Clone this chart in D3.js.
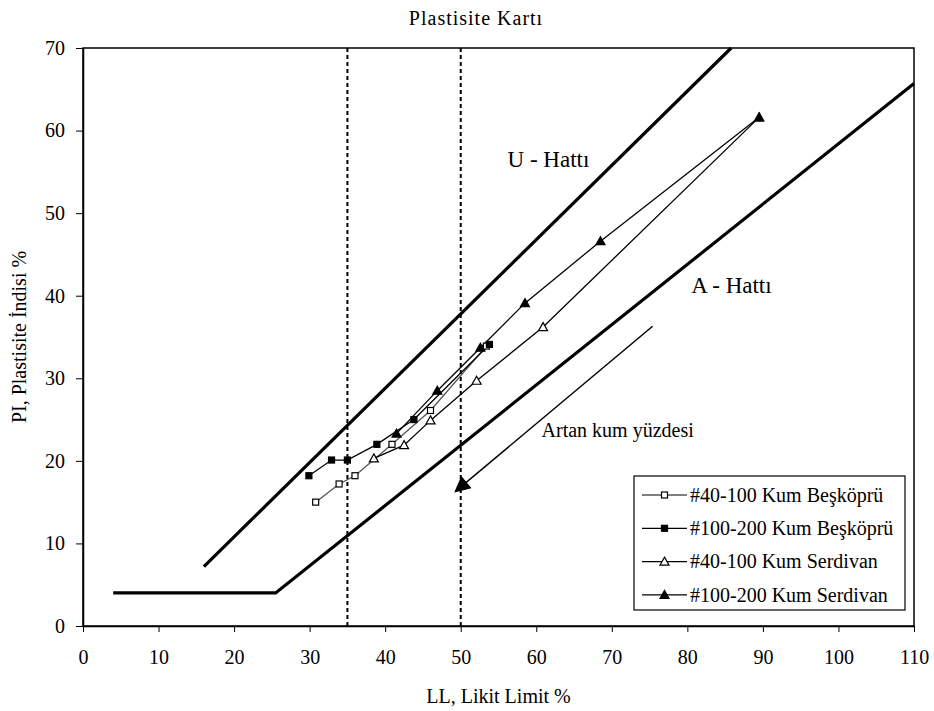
<!DOCTYPE html>
<html>
<head>
<meta charset="utf-8">
<script src="https://cdn.jsdelivr.net/npm/d3@7"></script>
<style>
  body { margin: 0; background: #fff; }
  svg text { font-family: "Liberation Serif", "Times New Roman", serif; fill: #000; }
</style>
</head>
<body>
<div id="chart"></div>
<script>
// series: [LL, PI]
var bes40 = [[30.8, 15.0], [33.9, 17.2], [36.0, 18.2], [40.9, 22.0], [46.0, 26.1], [53.4, 33.9]];
var bes100 = [[29.9, 18.2], [32.9, 20.1], [35.0, 20.1], [38.9, 22.0], [43.8, 25.0], [53.8, 34.1]];
var ser40 = [[38.5, 20.3], [42.5, 21.9], [46.0, 24.9], [52.1, 29.7], [60.9, 36.2], [89.5, 61.6]];
var ser100 = [[41.5, 23.3], [46.9, 28.5], [52.6, 33.7], [58.5, 39.1], [68.5, 46.6], [89.5, 61.6]];

var seriesNames = ["#40-100 Kum Beşköprü", "#100-200 Kum Beşköprü", "#40-100 Kum Serdivan", "#100-200 Kum Serdivan"];

// reference lines
var uLine = [[16, 7.2], [85.8, 70]];
var aLine = [[4, 4], [25.5, 4], [110, 65.7]];
var dottedLL = [35, 50];
var arrowLine = [[75.4, 36.3], [49.3, 16.3]];

var xTicks = [0, 10, 20, 30, 40, 50, 60, 70, 80, 90, 100, 110];
var yTicks = [0, 10, 20, 30, 40, 50, 60, 70];

var width = 934, height = 711;
var margin = {top: 48, right: 20, bottom: 85, left: 83};

var svg = d3.select("#chart").append("svg")
    .attr("width", width)
    .attr("height", height);

var x = d3.scaleLinear().domain([0, 110]).range([margin.left, width - margin.right]);
var y = d3.scaleLinear().domain([0, 70]).range([height - margin.bottom, margin.top]);

var line = d3.line().x(d => x(d[0])).y(d => y(d[1]));

// frame
svg.append("rect")
    .attr("x", x(0)).attr("y", y(70))
    .attr("width", x(110) - x(0)).attr("height", y(0) - y(70))
    .attr("fill", "none").attr("stroke", "#000").attr("stroke-width", 1.5);

// axes
var xAxis = svg.append("g")
    .attr("transform", `translate(0,${y(0)})`)
    .call(d3.axisBottom(x).tickValues(xTicks).tickSizeInner(6).tickSizeOuter(0).tickPadding(18));
var yAxis = svg.append("g")
    .attr("transform", `translate(${x(0)},0)`)
    .call(d3.axisLeft(y).tickValues(yTicks).tickSizeInner(7).tickSizeOuter(0).tickPadding(11));

[xAxis, yAxis].forEach(function(a) {
    a.select(".domain").attr("stroke", "#000").attr("stroke-width", 1.5);
    a.selectAll(".tick line").attr("stroke", "#000");
    a.selectAll(".tick text").attr("font-size", 20).attr("font-family", "Liberation Serif");
});
xAxis.selectAll(".tick text").attr("dy", "0.71em");

// titles
svg.append("text")
    .attr("x", 476).attr("y", 25)
    .attr("text-anchor", "middle")
    .attr("font-size", 20)
    .attr("letter-spacing", 1)
    .text("Plastisite Kartı");

svg.append("text")
    .attr("x", (x(0) + x(110)) / 2).attr("y", 703)
    .attr("text-anchor", "middle")
    .attr("font-size", 20)
    .text("LL, Likit Limit %");

svg.append("text")
    .attr("transform", "rotate(-90)")
    .attr("x", -(y(0) + y(70)) / 2).attr("y", 26)
    .attr("text-anchor", "middle")
    .attr("font-size", 20)
    .text("PI, Plastisite İndisi %");

// dotted verticals
svg.selectAll(".dotted")
    .data(dottedLL)
    .enter().append("line")
    .attr("x1", d => x(d)).attr("x2", d => x(d))
    .attr("y1", y(0)).attr("y2", y(70))
    .attr("stroke", "#000").attr("stroke-width", 2)
    .attr("stroke-dasharray", "4,3");

// U and A lines
svg.append("path").datum(uLine)
    .attr("d", line).attr("fill", "none")
    .attr("stroke", "#000").attr("stroke-width", 3.2);
svg.append("path").datum(aLine)
    .attr("d", line).attr("fill", "none")
    .attr("stroke", "#000").attr("stroke-width", 3.2)
    .attr("stroke-linejoin", "miter");

// arrow
var defs = svg.append("defs");
defs.append("marker")
    .attr("id", "arrowhead")
    .attr("viewBox", "0 0 10 10")
    .attr("refX", 9).attr("refY", 5)
    .attr("markerWidth", 20).attr("markerHeight", 16)
    .attr("markerUnits", "userSpaceOnUse")
    .attr("orient", "auto")
    .append("path")
    .attr("d", "M0,0 L10,5 L0,10 Z")
    .attr("fill", "#000");

svg.append("path").datum(arrowLine)
    .attr("d", line).attr("fill", "none")
    .attr("stroke", "#000").attr("stroke-width", 1.5)
    .attr("marker-end", "url(#arrowhead)");

// annotations
svg.append("text").attr("x", x(56.2)).attr("y", y(55.6))
    .attr("font-size", 23).text("U - Hattı");
svg.append("text").attr("x", x(80.5)).attr("y", y(40.3))
    .attr("font-size", 23).text("A - Hattı");
svg.append("text").attr("x", x(60.7)).attr("y", y(22.9))
    .attr("font-size", 20).text("Artan kum yüzdesi");

// series
var series = [
    {name: seriesNames[0], data: bes40, stroke: "#555", shape: "square", fill: "#fff"},
    {name: seriesNames[1], data: bes100, stroke: "#000", shape: "square", fill: "#000"},
    {name: seriesNames[2], data: ser40, stroke: "#000", shape: "triangle", fill: "#fff"},
    {name: seriesNames[3], data: ser100, stroke: "#000", shape: "triangle", fill: "#000"}
];

function marker(g, s) {
    if (s.shape === "square") {
        g.append("rect")
            .attr("x", -3).attr("y", -3).attr("width", 6).attr("height", 6)
            .attr("fill", s.fill).attr("stroke", "#000").attr("stroke-width", 1.2);
    } else {
        g.append("path")
            .attr("d", "M0,-4.5 L4.5,3.5 L-4.5,3.5 Z")
            .attr("fill", s.fill).attr("stroke", "#000").attr("stroke-width", 1.2);
    }
}

series.forEach(function(s) {
    svg.append("path").datum(s.data)
        .attr("d", line).attr("fill", "none")
        .attr("stroke", s.stroke).attr("stroke-width", 1.3);
});
series.forEach(function(s) {
    svg.selectAll(null)
        .data(s.data)
        .enter().append("g")
        .attr("transform", d => `translate(${x(d[0])},${y(d[1])})`)
        .each(function() { marker(d3.select(this), s); });
});

// legend
var legend = svg.append("g");
legend.append("rect")
    .attr("x", 634).attr("y", 476).attr("width", 271).attr("height", 134)
    .attr("fill", "#fff").attr("stroke", "#000").attr("stroke-width", 1.2);

var item = legend.selectAll(".item")
    .data(series)
    .enter().append("g")
    .attr("transform", (d, i) => `translate(0,${495 + i * 33.3})`);

item.append("line")
    .attr("x1", 642).attr("x2", 687)
    .attr("stroke", d => d.stroke).attr("stroke-width", 1.3);
item.append("g")
    .attr("transform", "translate(664.5,0)")
    .each(function(d) { marker(d3.select(this), d); });
item.append("text")
    .attr("x", 690).attr("dy", "0.33em")
    .attr("font-size", 20)
    .text(d => d.name);
</script>
</body>
</html>
